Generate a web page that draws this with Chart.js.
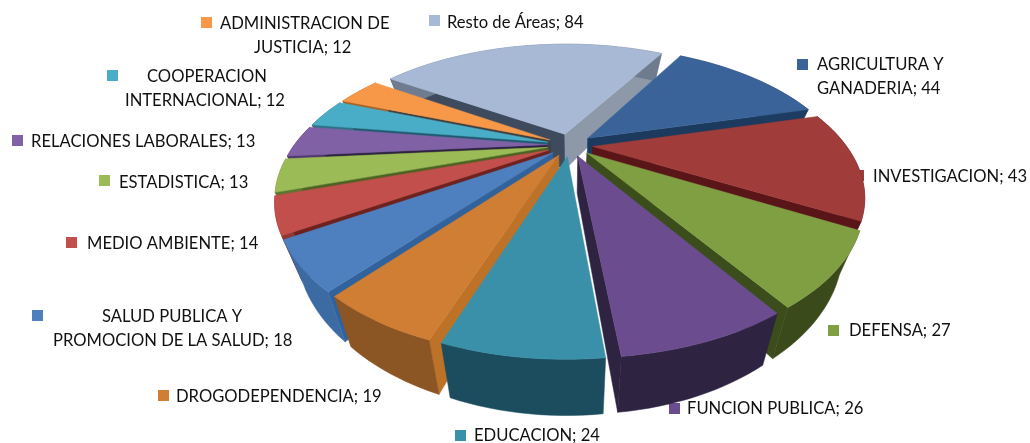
<!DOCTYPE html>
<html>
<head>
<meta charset="utf-8">
<script src="https://cdn.jsdelivr.net/npm/chart.js@4/dist/chart.umd.js"></script>
<style>
  body { margin: 0; background: #fff; }
  canvas { display: block; }
</style>
</head>
<body>
<canvas id="pieChart" width="1030" height="443"></canvas>
<script>
// categories, one inner list per printed line
const categories = [
    ["AGRICULTURA Y", "GANADERIA"],
    ["INVESTIGACION"],
    ["DEFENSA"],
    ["FUNCION PUBLICA"],
    ["EDUCACION"],
    ["DROGODEPENDENCIA"],
    ["SALUD PUBLICA Y", "PROMOCION DE LA SALUD"],
    ["MEDIO AMBIENTE"],
    ["ESTADISTICA"],
    ["RELACIONES LABORALES"],
    ["COOPERACION", "INTERNACIONAL"],
    ["ADMINISTRACION DE", "JUSTICIA"],
    ["Resto de Áreas"]
];
const values = [44, 43, 27, 26, 24, 19, 18, 14, 13, 13, 12, 12, 84];

const topColors = ["#3A6499", "#A03D3B", "#809F43", "#6B4C8E", "#3B90A9", "#CF7E33", "#4E80BF",
    "#C24F4B", "#9ABB55", "#8161A6", "#4AADC7", "#F79849", "#A8B9D6"];
const wallColors = ["#1E3C61", "#5A1518", "#3A4A1B", "#2F2342", "#1B4D5E", "#8C5524", "#3C6AA3",
    "#8E3836", "#5E7530", "#50396E", "#2C7186", "#A56227", "#6F7B8E"];
const startCutColors = ["#1E3C61", "#5A1518", "#3A4A1B", "#2F2342", "#2A7A90", "#BE7228", "#32629B",
    "#6E2220", "#4E6222", "#2F2342", "#1E5B70", "#3F3F3F", "#3E4B5E"];
const endCutColors = ["#1C3A5E", "#5A1518", "#3B4D1A", "#2F2342", "#2A7A90", "#BE7228", "#32629B",
    "#6E2220", "#4E6222", "#2F2342", "#1E5B70", "#3F3F3F", "#8D98A9"];

// label layout: key square x,y then text x and y of the first line (x per line)
const labelLayout = [
    { sq: [797, 59], x: [817, 817], y: 65 },
    { sq: [853, 170], x: [873], y: 177 },
    { sq: [828, 325], x: [849], y: 331 },
    { sq: [669, 403], x: [687], y: 409 },
    { sq: [455, 430], x: [474], y: 436 },
    { sq: [158, 390], x: [176], y: 397 },
    { sq: [32, 310], x: [102, 53], y: 317 },
    { sq: [66, 237], x: [87], y: 244 },
    { sq: [99, 175], x: [119], y: 183 },
    { sq: [12, 135], x: [31], y: 142 },
    { sq: [107, 70], x: [147, 125], y: 77 },
    { sq: [201, 17], x: [220, 254], y: 24 },
    { sq: [429, 15], x: [447], y: 23 }
];

// pie plane -> screen
const cx = 570, cy = 145, Rx = 253, Ry = 126, persp = 0.33;
const explode = 0.09, depth = 36, bottomShrink = 0.93;

function project(u, v, low) {
    let s = 1 / (1 - persp * v);
    let x = cx + Rx * u * s;
    let y = cy + Ry * v * s;
    if (low) {
        x = cx + (x - cx) * bottomShrink;
        y = y + depth * s;
    }
    return [x, y];
}

function fillPoly(ctx, pts, color) {
    ctx.beginPath();
    pts.forEach((p, i) => i ? ctx.lineTo(p[0], p[1]) : ctx.moveTo(p[0], p[1]));
    ctx.closePath();
    ctx.fillStyle = color;
    ctx.fill();
    ctx.strokeStyle = color;
    ctx.lineWidth = 0.5;
    ctx.stroke();
}

function signedArea(pts) {
    let a = 0;
    for (let i = 0; i < pts.length; i++) {
        let p = pts[i], q = pts[(i + 1) % pts.length];
        a += p[0] * q[1] - q[0] * p[1];
    }
    return a;
}

// the arcs keep their angles from Chart.js, only the painting is tilted
function drawSlice(ctx, arc, i, color) {
    let a0 = arc.startAngle, a1 = arc.endAngle;
    let mid = (a0 + a1) / 2;
    let ox = explode * Math.cos(mid), oy = explode * Math.sin(mid);

    let rimTop = [], rimLow = [];
    let steps = Math.max(8, Math.ceil((a1 - a0) / 0.03));
    for (let k = 0; k <= steps; k++) {
        let a = a0 + (a1 - a0) * k / steps;
        let u = Math.cos(a) + ox, v = Math.sin(a) + oy;
        rimTop.push(project(u, v, false));
        rimLow.push(project(u, v, true));
    }
    let apexTop = project(ox, oy, false);
    let apexLow = project(ox, oy, true);

    let startCut = [apexTop, rimTop[0], rimLow[0], apexLow];
    let endCut = [apexTop, rimTop[steps], rimLow[steps], apexLow];
    if (signedArea(startCut) < 0) fillPoly(ctx, startCut, startCutColors[i]);
    if (signedArea(endCut) > 0) fillPoly(ctx, endCut, endCutColors[i]);

    fillPoly(ctx, rimTop.concat(rimLow.slice().reverse()), wallColors[i]);
    fillPoly(ctx, [apexTop].concat(rimTop), color);
}

const tiltedPie = {
    id: "tiltedPie",
    beforeDatasetsDraw(chart) {
        let ctx = chart.ctx;
        ctx.save();
        ctx.font = "16.6px Lato";
        ctx.textBaseline = "middle";
        categories.forEach((lines, i) => {
            let lay = labelLayout[i];
            ctx.fillStyle = topColors[i];
            ctx.fillRect(lay.sq[0], lay.sq[1], 11, 11);
            ctx.fillStyle = "#111";
            lines.forEach((line, j) => {
                let txt = j === lines.length - 1 ? line + "; " + values[i] : line;
                ctx.fillText(txt, lay.x[j], lay.y + j * 24);
            });
        });
        ctx.restore();
    },
    beforeDatasetDraw() {
        return false;
    },
    afterDatasetsDraw(chart) {
        let ctx = chart.ctx;
        let arcs = chart.getDatasetMeta(0).data;
        let order = arcs.map((a, i) => i);
        order.sort((p, q) => {
            let mp = (arcs[p].startAngle + arcs[p].endAngle) / 2;
            let mq = (arcs[q].startAngle + arcs[q].endAngle) / 2;
            return Math.sin(mp) - Math.sin(mq);
        });
        ctx.save();
        order.forEach(i => drawSlice(ctx, arcs[i], i, topColors[i]));
        ctx.restore();
    }
};

new Chart(document.getElementById("pieChart").getContext("2d"), {
    type: "pie",
    data: {
        labels: categories,
        datasets: [{ data: values, backgroundColor: topColors, borderWidth: 0 }]
    },
    options: {
        responsive: false,
        animation: false,
        rotation: 29.8,
        plugins: { legend: { display: false }, tooltip: { enabled: false } }
    },
    plugins: [tiltedPie]
});
</script>
</body>
</html>
